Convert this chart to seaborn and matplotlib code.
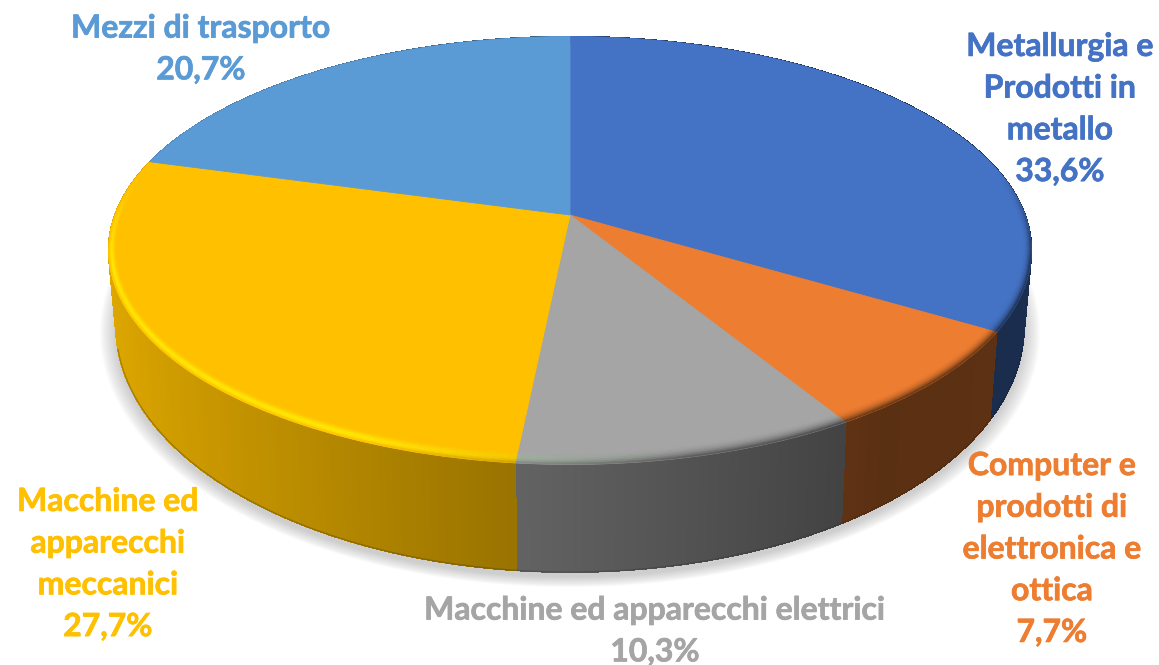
import numpy as np
import seaborn as sns
import matplotlib
matplotlib.use('Agg')
import matplotlib.pyplot as plt
import matplotlib.patheffects as pe
import matplotlib.transforms as mtransforms
from matplotlib.collections import PolyCollection

names = ['Metallurgia e\nProdotti in\nmetallo',
         'Computer e\nprodotti di\nelettronica e\nottica',
         'Macchine ed apparecchi elettrici',
         'Macchine ed\napparecchi\nmeccanici',
         'Mezzi di trasporto']
shares = [33.6, 7.7, 10.3, 27.7, 20.7]
hex_colors = ['#4472C4', '#ED7D31', '#A5A5A5', '#FFC000', '#5B9BD5']
label_pos = [(1060, 109), (1052, 549), (655, 631), (108, 564), (201, 49)]

# pixel geometry of the tilted disc
CX, CY, RX, RY, K = 570, 215, 455, 208, 0.166
BOTTOM_CY, BOTTOM_RY, BOTTOM_SHRINK = 285.5, 239, 0.984


class DiscProjection(mtransforms.Transform):
    input_dims = 2
    output_dims = 2

    def transform_non_affine(self, values):
        v = np.asarray(values, dtype=float)
        w = 1 + K * v[:, 1]
        return np.column_stack((CX + RX * v[:, 0] / w, CY - RY * v[:, 1] / w))


def bottom_rim(x, y, grow=1.0, drop=0.0):
    w = 1 + K * y
    return (CX + grow * BOTTOM_SHRINK * RX * x / w,
            BOTTOM_CY + drop - grow * BOTTOM_RY * y / w)


def wall_shade(x):
    return np.interp(x, [-1, -0.75, -0.1, 0.6, 1.0], [0.88, 0.80, 0.60, 0.38, 0.40])


def band_point(px, py, frac):
    # the bevel is about as wide on screen at the sides as it is in front
    r = 1 - 0.045 * (1 - 0.6 * px ** 2) * (1 - frac)
    return [r * px, r * py]


sns.set_theme(style='white')
plt.rcParams['font.family'] = ['Lato', 'DejaVu Sans']

fig = plt.figure(figsize=(11.59, 6.65), dpi=100)
ax = fig.add_axes([0, 0, 1, 1])
palette = sns.color_palette(hex_colors)

wedges, _ = ax.pie(shares, colors=palette, startangle=90, counterclock=False,
                   radius=1, wedgeprops={'linewidth': 0.6})

ax.set_aspect('auto')
ax.set_xlim(0, 1159)
ax.set_ylim(665, 0)
ax.axis('off')

proj = DiscProjection()

# soft shadow under the disc
t = np.linspace(0, 2 * np.pi, 300)
for g in np.linspace(1.035, 1.0, 12):
    sx, sy = bottom_rim(np.cos(t), np.sin(t), grow=g, drop=5)
    ax.fill(sx, sy, color='#808080', alpha=0.035, lw=0, zorder=1)

for wedge, col in zip(wedges, palette):
    base = np.array(col)
    wedge.set_edgecolor(col)
    wedge.set_transform(proj + ax.transData)
    wedge.set_zorder(3)

    a = np.radians(np.linspace(wedge.theta1, wedge.theta2, 120))
    x, y = np.cos(a), np.sin(a)

    # side wall
    top = proj.transform_non_affine(np.column_stack((x, y)))
    bx, by = bottom_rim(x, y)
    quads, shades = [], []
    for i in range(len(a) - 1):
        quads.append([top[i], top[i + 1], (bx[i + 1], by[i + 1]), (bx[i], by[i])])
        shades.append(base * wall_shade((x[i] + x[i + 1]) / 2))
    ax.add_collection(PolyCollection(quads, facecolors=shades, edgecolors=shades,
                                     linewidths=0.6, antialiaseds=False, zorder=2))

    # darker line along the foot of the wall, front part only
    front = y < -0.25
    ax.plot(bx[front], by[front], color=base * 0.3, alpha=0.35, lw=1.0, zorder=2.5,
            solid_capstyle='butt')

    # bevel along the rim of the top face
    steps = np.linspace(0, 1, 9)
    for j in range(len(steps) - 1):
        tt = (steps[j] + steps[j + 1]) / 2
        quads, cols = [], []
        for i in range(len(a) - 1):
            xm, ym = (x[i] + x[i + 1]) / 2, (y[i] + y[i + 1]) / 2
            p = proj.transform_non_affine(np.array([
                band_point(x[i], y[i], steps[j]),
                band_point(x[i + 1], y[i + 1], steps[j]),
                band_point(x[i + 1], y[i + 1], steps[j + 1]),
                band_point(x[i], y[i], steps[j + 1])]))
            strength = np.clip((0.2 - ym) / 0.4, 0, 1)
            lit = np.clip(-xm * 1.6 + 0.35, 0, 1)
            light = base + np.array([0.02, 0.16, 0.02])
            dark = base * wall_shade(xm)
            # lit profile: rises to a bright ridge near the outer edge
            ridge = np.sin(np.pi * tt ** 1.8) ** 1.5
            c_lit = base + (light - base) * ridge
            # dark profile: only the outer part of the band darkens
            c_dark = base + (dark - base) * tt ** 2.5
            c = c_lit * lit + c_dark * (1 - lit)
            quads.append(p)
            cols.append(base + (c - base) * strength)
        cols = np.clip(cols, 0, 1)
        ax.add_collection(PolyCollection(quads, facecolors=cols, edgecolors=cols,
                                         linewidths=0.3, zorder=4))

for name, share, col, (lx, ly) in zip(names, shares, palette, label_pos):
    label = name + '\n' + f'{share:.1f}%'.replace('.', ',')
    ax.text(lx, ly, label, color=col, fontsize=23, fontweight='bold',
            ha='center', va='center', linespacing=1.53, zorder=5,
            path_effects=[pe.withStroke(linewidth=0.5, foreground=col)])

plt.savefig('out.png', dpi=100)
